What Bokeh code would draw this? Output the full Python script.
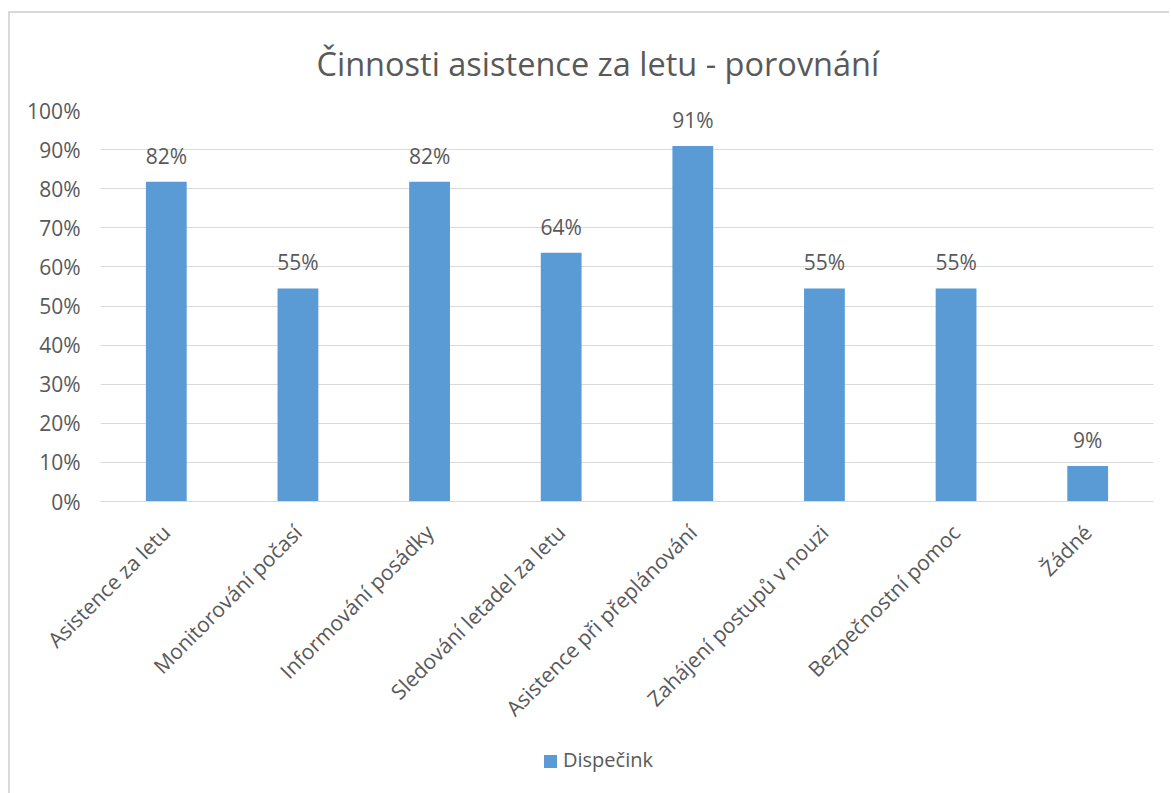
import math
from bokeh.plotting import figure
from bokeh.layouts import column
from bokeh.core.properties import value
from bokeh.models import ColumnDataSource, LabelSet, NumeralTickFormatter, FixedTicker, Range1d, FactorRange, Title, Div
from bokeh.embed import file_html
from bokeh.resources import INLINE

categories = ["Asistence za letu", "Monitorování počasí", "Informování posádky",
              "Sledování letadel za letu", "Asistence při přeplánování",
              "Zahájení postupů v nouzi", "Bezpečnostní pomoc", "Žádné"]
values = [0.818, 0.545, 0.818, 0.636, 0.909, 0.545, 0.545, 0.091]
series_name = "Dispečink"
y_ticks = [0.0, 0.1, 0.2, 0.3, 0.4, 0.5, 0.6, 0.7, 0.8, 0.9, 1.0]

labels = [f"{round(v * 100)}%" for v in values]
src = ColumnDataSource(dict(x=categories, y=values, lab=labels))

TXT = "#595959"
FONT = "Open Sans"
BAR = "#5B9BD5"

p = figure(width=1159, height=730, x_range=FactorRange(*categories, range_padding=0),
           y_range=Range1d(0, 1.0), output_backend="svg", toolbar_location=None,
           min_border_left=90, min_border_right=16, min_border_top=97, min_border_bottom=242)
p.margin = 0
p.outline_line_color = None

title = Title(text="Činnosti asistence za letu - porovnání", align="left",
              text_font=FONT, text_font_size="32.5px", text_font_style="normal",
              text_color=TXT, offset=216, standoff=50)
p.add_layout(title, "above")

r = p.vbar(x="x", top="y", width=0.31, source=src, fill_color=BAR, line_color=None)

lbl = LabelSet(x="x", y="y", text="lab", source=src, text_align="center",
               text_baseline="alphabetic", y_offset=18, text_font=value(FONT),
               text_font_size=value("21px"), text_color=TXT)
p.add_layout(lbl)

p.yaxis.ticker = FixedTicker(ticks=y_ticks)
p.yaxis.formatter = NumeralTickFormatter(format="0%")
p.yaxis.axis_line_color = None
p.yaxis.major_tick_line_color = None
p.yaxis.minor_tick_line_color = None
p.yaxis.major_tick_out = 0
p.yaxis.major_label_standoff = 20
p.yaxis.major_label_text_font = FONT
p.yaxis.major_label_text_font_size = "21px"
p.yaxis.major_label_text_color = TXT

p.xaxis.axis_line_color = "#D9D9D9"
p.xaxis.major_tick_line_color = None
p.xaxis.major_tick_out = 0
p.xaxis.major_label_orientation = math.pi / 4
p.xaxis.major_label_standoff = 27
p.xaxis.major_label_text_font = FONT
p.xaxis.major_label_text_font_size = "21px"
p.xaxis.major_label_text_color = TXT

p.xgrid.grid_line_color = None
p.ygrid.grid_line_color = "#D9D9D9"
p.ygrid.grid_line_width = 1

legend_html = (
    '<div style="position:relative;left:534px;top:3px;font-family:\'Open Sans\';'
    'font-size:20px;color:%s;line-height:27px;white-space:nowrap">'
    '<span style="display:inline-block;width:13px;height:13px;background:%s;'
    'margin-right:6px;vertical-align:-1px"></span>%s</div>' % (TXT, BAR, series_name)
)
legend_div = Div(text=legend_html, width=1159, height=50)
legend_div.margin = 0

layout = column(p, legend_div, spacing=0,
                styles={"border-left": "2px solid #D9D9D9", "border-top": "2px solid #D9D9D9",
                        "margin-left": "8px", "margin-top": "11px", "background": "white"})

open("out.html", "w").write(file_html(layout, INLINE))
